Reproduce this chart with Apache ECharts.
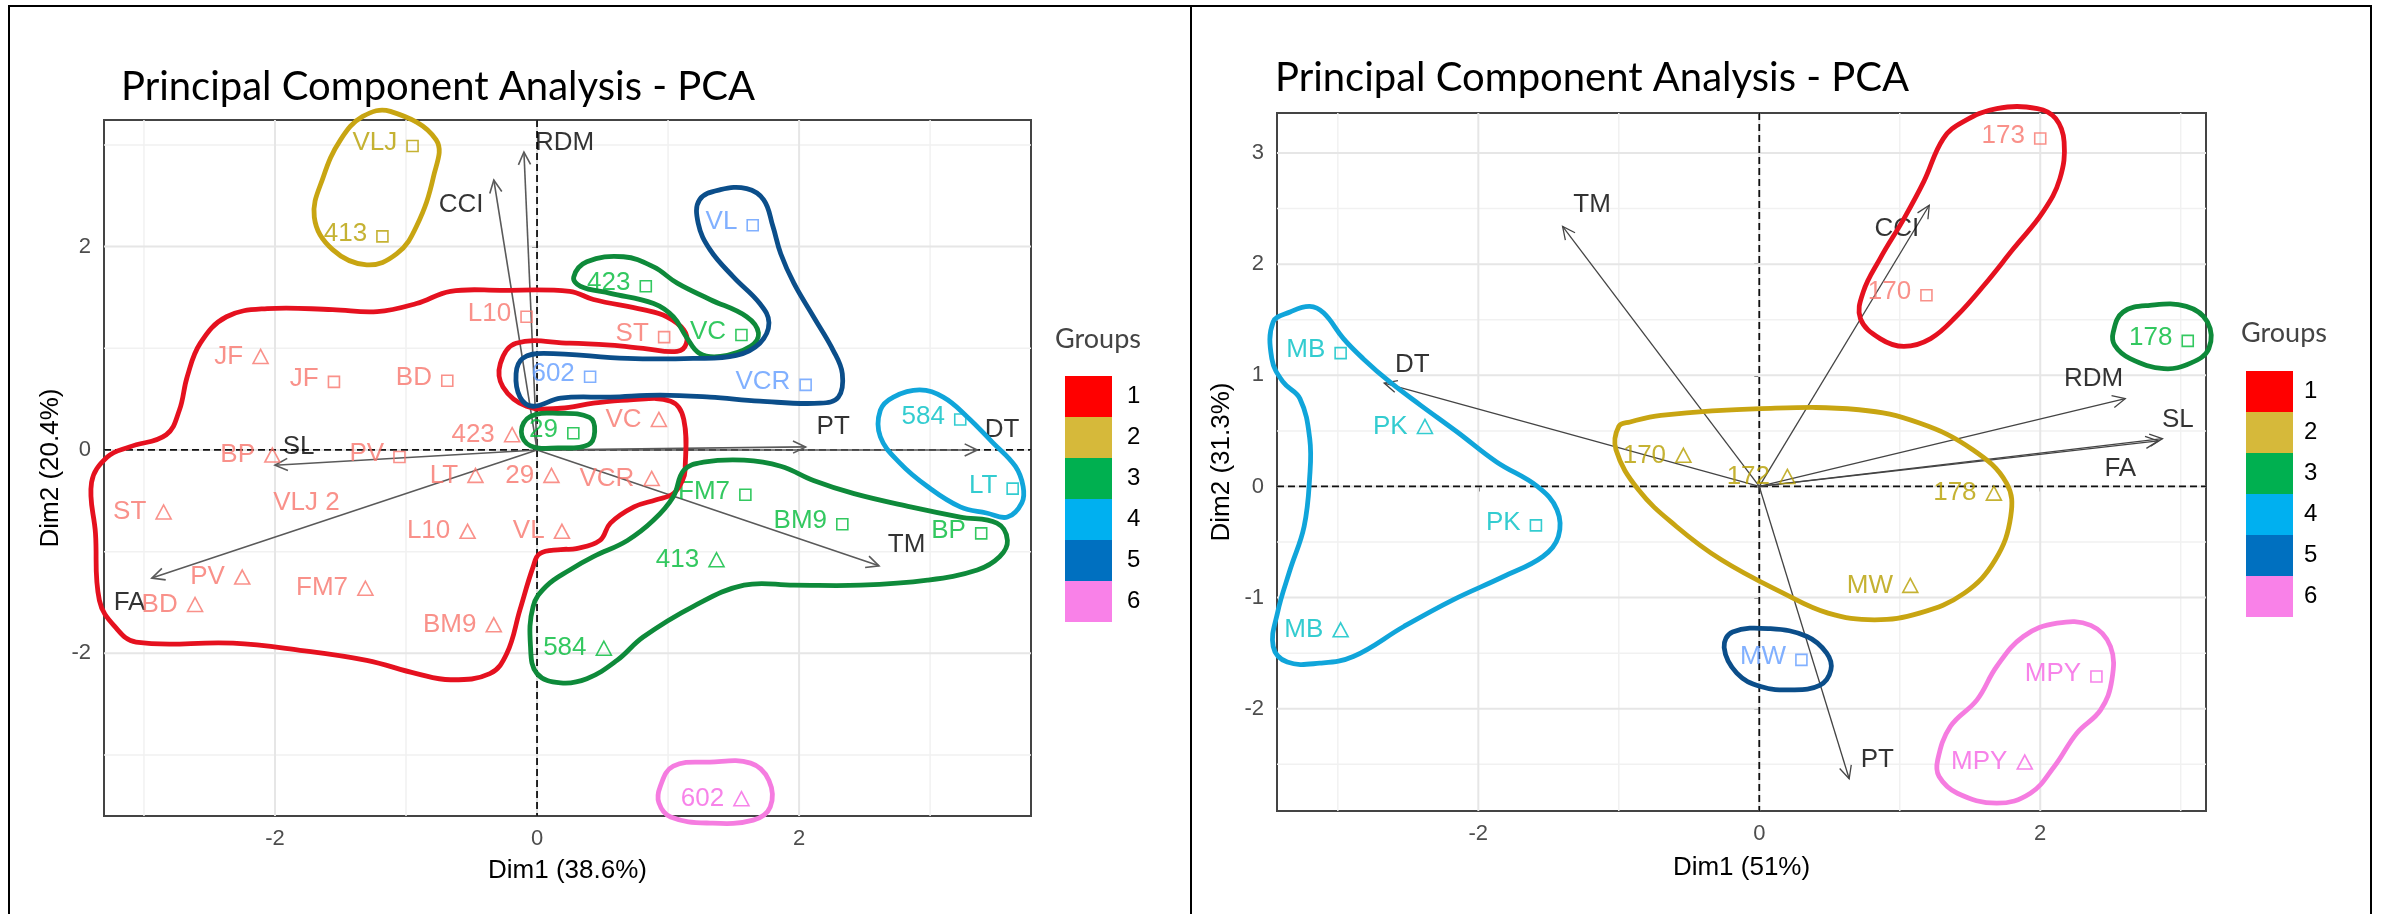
<!DOCTYPE html>
<html><head><meta charset="utf-8">
<script src="https://cdn.jsdelivr.net/npm/echarts@6/dist/echarts.min.js"></script>
<style>html,body{margin:0;padding:0;background:#fff}#c{width:2381px;height:914px}</style>
</head><body><div id="c"></div>
<script>
// ---------- data ----------
const groupNames = ['1','2','3','4','5','6'];
const groupLabelColors = ['#F8766D','#B79F00','#00BA38','#00BFC4','#619CFF','#F564E3'];
const hullColors = ['#E5111F','#C8A512','#0E8A3A','#10A5DA','#0B4E8A','#F57CE0'];
const legendColors = ['#FF0000','#D6B93A','#00B050','#00B0F0','#0070C0','#F981E8'];

const titleText = 'Principal Component Analysis - PCA';
const leftAxisNames = ['Dim1 (38.6%)','Dim2 (20.4%)'];
const rightAxisNames = ['Dim1 (51%)','Dim2 (31.3%)'];
const leftXTicks = [-2,0,2];
const leftYTicks = [-2,0,2];
const rightXTicks = [-2,0,2];
const rightYTicks = [-2,-1,0,1,2,3];
const leftXMinor = [-3,-1,1,3];
const leftYMinor = [-3,-1,1,3];
const rightXMinor = [-3,-1,1,3];
const rightYMinor = [-2.5,-1.5,-0.5,0.5,1.5,2.5];

// points: [label, group, shape, Dim1, Dim2]
const leftPoints = [
 ['VLJ',2,'sq',-0.95,2.99], ['413',2,'sq',-1.18,2.10],
 ['L10',1,'sq',-0.08,1.31], ['JF',1,'tri',-2.11,0.92], ['JF',1,'sq',-1.55,0.67],
 ['BD',1,'sq',-0.685,0.68], ['602',5,'sq',0.405,0.72], ['423',1,'tri',-0.19,0.15],
 ['29',3,'sq',0.277,0.164], ['BP',1,'tri',-2.02,-0.05], ['PV',1,'sq',-1.05,-0.07],
 ['VL',5,'sq',1.646,2.21], ['423',3,'sq',0.83,1.61], ['ST',1,'sq',0.97,1.11],
 ['VC',3,'sq',1.56,1.13], ['VCR',5,'sq',2.05,0.64], ['VC',1,'tri',0.93,0.30],
 ['584',4,'sq',3.23,0.30], ['ST',1,'tri',-2.85,-0.61], ['VLJ 2',1,'none',-1.76,-0.52],
 ['LT',1,'tri',-0.47,-0.25], ['29',1,'tri',0.11,-0.25], ['L10',1,'tri',-0.53,-0.80],
 ['VL',1,'tri',0.19,-0.80], ['PV',1,'tri',-2.25,-1.25], ['FM7',1,'tri',-1.31,-1.36],
 ['BD',1,'tri',-2.61,-1.52], ['BM9',1,'tri',-0.33,-1.72], ['584',3,'tri',0.51,-1.95],
 ['VCR',1,'tri',0.875,-0.28], ['FM7',3,'sq',1.59,-0.44], ['BM9',3,'sq',2.33,-0.73],
 ['BP',3,'sq',3.39,-0.82], ['LT',4,'sq',3.63,-0.38], ['413',3,'tri',1.37,-1.08],
 ['602',6,'tri',1.56,-3.43]
];
const rightPoints = [
 ['MB',4,'sq',-2.98,1.20], ['PK',4,'tri',-2.38,0.54], ['170',2,'tri',-0.54,0.28],
 ['173',1,'sq',2.00,3.13], ['170',1,'sq',1.19,1.72], ['178',3,'sq',3.05,1.31],
 ['172',2,'tri',0.20,0.09], ['178',2,'tri',1.67,-0.06], ['MW',2,'tri',1.075,-0.89],
 ['MW',5,'sq',0.30,-1.56], ['MPY',6,'sq',2.40,-1.71], ['MPY',6,'tri',1.89,-2.48],
 ['PK',4,'sq',-1.59,-0.35], ['MB',4,'tri',-2.98,-1.29]
];

// variable arrows: [name, tipDim1, tipDim2, labelDim1, labelDim2]
const leftArrows = [
 ['RDM',-0.10,2.93,0.21,3.02], ['CCI',-0.33,2.655,-0.58,2.41], ['SL',-2.0,-0.15,-1.82,0.03],
 ['FA',-2.94,-1.26,-3.11,-1.50], ['PT',2.05,0.03,2.26,0.23], ['DT',3.36,0.0,3.55,0.20],
 ['TM',2.61,-1.14,2.82,-0.93]
];
const rightArrows = [
 ['TM',-1.40,2.34,-1.19,2.53], ['DT',-2.67,0.93,-2.47,1.09], ['CCI',1.21,2.53,0.98,2.32],
 ['RDM',2.605,0.79,2.38,0.97], ['SL',2.87,0.43,2.98,0.60], ['FA',2.84,0.41,2.57,0.16],
 ['PT',0.64,-2.63,0.84,-2.46]
];

// hand-drawn group outlines (Dim1, Dim2)
const leftHull1 = [[-3.28,-0.07],[-3.11,0.03],[-2.83,0.15],[-2.73,0.39],[-2.67,0.72],[-2.57,1.05],[-2.37,1.31],[-2.06,1.39],[-1.56,1.38],[-1.22,1.36],[-0.92,1.44],[-0.66,1.56],[-0.28,1.57],[0.25,1.56],[0.43,1.48],[0.81,1.38],[0.99,1.31],[1.12,1.18],[1.14,1.05],[1.07,0.97],[0.81,1.00],[0.56,1.03],[0.25,1.05],[-0.16,1.05],[-0.28,0.85],[-0.26,0.62],[-0.08,0.43],[0.18,0.41],[0.43,0.46],[0.69,0.49],[1.02,0.48],[1.12,0.30],[1.13,-0.20],[1.11,-0.30],[1.04,-0.43],[0.91,-0.49],[0.74,-0.56],[0.56,-0.72],[0.48,-0.89],[0.30,-0.97],[0.18,-0.98],[0.02,-1.02],[-0.03,-1.15],[-0.13,-1.57],[-0.23,-2.00],[-0.36,-2.20],[-0.66,-2.26],[-0.92,-2.20],[-1.30,-2.07],[-1.81,-1.97],[-2.32,-1.90],[-3.06,-1.89],[-3.22,-1.74],[-3.34,-1.48],[-3.37,-0.82],[-3.40,-0.32]];
const leftHull2 = [[-1.12,3.33],[-0.77,3.05],[-0.79,2.69],[-0.92,2.20],[-1.07,1.93],[-1.30,1.82],[-1.56,1.97],[-1.70,2.29],[-1.63,2.69],[-1.50,3.05],[-1.33,3.28]];
const leftHull3a = [[0.28,1.70],[0.38,1.85],[0.66,1.90],[0.89,1.80],[1.07,1.64],[1.32,1.48],[1.60,1.31],[1.69,1.15],[1.63,1.02],[1.40,0.92],[1.24,0.95],[1.14,1.11],[1.04,1.31],[0.89,1.44],[0.56,1.54],[0.33,1.61]];
const leftHull3b = [[-0.12,0.18],[-0.05,0.33],[0.16,0.36],[0.40,0.32],[0.44,0.18],[0.39,0.05],[0.16,0.02],[-0.05,0.04]];
const leftHull3c = [[1.12,-0.20],[1.27,-0.12],[1.58,-0.10],[1.86,-0.16],[2.11,-0.30],[2.42,-0.43],[2.85,-0.56],[3.23,-0.66],[3.51,-0.72],[3.59,-0.89],[3.53,-1.05],[3.36,-1.18],[2.98,-1.28],[2.47,-1.33],[1.96,-1.33],[1.58,-1.33],[1.19,-1.54],[0.81,-1.84],[0.61,-2.07],[0.38,-2.25],[0.18,-2.29],[0.00,-2.20],[-0.05,-1.93],[-0.03,-1.54],[0.07,-1.34],[0.25,-1.18],[0.43,-1.05],[0.69,-0.89],[0.89,-0.69],[1.04,-0.46]];
const leftHull4 = [[2.62,0.39],[2.72,0.52],[2.92,0.59],[3.10,0.52],[3.28,0.33],[3.48,0.07],[3.65,-0.16],[3.71,-0.36],[3.70,-0.52],[3.59,-0.66],[3.43,-0.62],[3.23,-0.56],[2.98,-0.36],[2.77,-0.13],[2.62,0.13]];
const leftHull5 = [[1.24,2.46],[1.40,2.56],[1.60,2.57],[1.73,2.46],[1.80,2.20],[1.86,1.93],[1.96,1.64],[2.11,1.31],[2.26,0.98],[2.33,0.75],[2.30,0.52],[2.16,0.46],[1.70,0.48],[1.32,0.52],[0.94,0.54],[0.56,0.52],[0.18,0.51],[-0.03,0.43],[-0.13,0.52],[-0.16,0.75],[-0.11,0.90],[0.05,0.95],[0.69,0.90],[1.19,0.90],[1.52,0.93],[1.70,1.05],[1.77,1.25],[1.70,1.44],[1.50,1.70],[1.32,1.97],[1.23,2.23]];
const leftHull6 = [[0.94,-3.31],[1.04,-3.11],[1.32,-3.07],[1.63,-3.08],[1.77,-3.25],[1.78,-3.51],[1.65,-3.64],[1.32,-3.67],[1.02,-3.61],[0.93,-3.47]];

const rightHull1 = [[1.31,3.13],[1.45,3.28],[1.69,3.40],[1.98,3.40],[2.11,3.31],[2.17,3.10],[2.14,2.77],[2.02,2.47],[1.81,2.14],[1.60,1.81],[1.41,1.54],[1.22,1.33],[1.03,1.26],[0.86,1.33],[0.72,1.51],[0.74,1.75],[0.86,2.05],[1.03,2.41],[1.17,2.74]];
const rightHull2 = [[-0.92,0.58],[-0.70,0.64],[0.01,0.70],[0.71,0.69],[1.14,0.57],[1.52,0.33],[1.76,0.03],[1.79,-0.27],[1.68,-0.66],[1.46,-0.96],[1.14,-1.14],[0.82,-1.20],[0.49,-1.14],[0.17,-0.96],[-0.27,-0.66],[-0.59,-0.36],[-0.86,-0.03],[-1.02,0.33],[-1.00,0.54]];
const rightHull3 = [[2.52,1.39],[2.59,1.57],[2.78,1.63],[3.04,1.62],[3.19,1.48],[3.20,1.24],[3.07,1.11],[2.88,1.06],[2.64,1.15],[2.53,1.27]];
const rightHull4 = [[-3.46,1.48],[-3.34,1.57],[-3.20,1.62],[-3.10,1.56],[-2.96,1.33],[-2.82,1.15],[-2.63,0.94],[-2.41,0.73],[-2.15,0.49],[-1.87,0.22],[-1.58,0.00],[-1.44,-0.21],[-1.43,-0.45],[-1.54,-0.63],[-1.82,-0.81],[-2.18,-1.02],[-2.53,-1.26],[-2.89,-1.53],[-3.13,-1.59],[-3.36,-1.58],[-3.46,-1.44],[-3.43,-1.14],[-3.34,-0.75],[-3.24,-0.36],[-3.20,0.09],[-3.20,0.43],[-3.27,0.79],[-3.39,0.94],[-3.47,1.15]];
const rightHull5 = [[-0.25,-1.45],[-0.19,-1.31],[0.08,-1.28],[0.34,-1.35],[0.48,-1.50],[0.51,-1.65],[0.43,-1.79],[0.22,-1.83],[0.01,-1.80],[-0.16,-1.68]];
const rightHull6 = [[1.27,-2.46],[1.36,-2.16],[1.55,-1.92],[1.69,-1.62],[1.88,-1.35],[2.12,-1.23],[2.36,-1.25],[2.50,-1.44],[2.51,-1.74],[2.43,-2.01],[2.26,-2.22],[2.10,-2.52],[1.93,-2.76],[1.69,-2.85],[1.41,-2.76],[1.28,-2.61]];

// ---------- rendering ----------
const FONT = '"Liberation Sans", Arial, sans-serif';
const TFONT = 'Lato, "Open Sans", sans-serif';

function gridLineSeries(values, dir, xi, yi, style, z){
  return {type:'custom', xAxisIndex:xi, yAxisIndex:yi, silent:true, z:z, animation:false,
    data: values.map(v => [v]),
    renderItem: function(params, api){
      const cs = params.coordSys; const v = api.value(0);
      if (dir === 'v'){ const x = api.coord([v, 0])[0];
        return {type:'line', shape:{x1:x, y1:cs.y, x2:x, y2:cs.y+cs.height}, style:style}; }
      const y = api.coord([0, v])[1];
      return {type:'line', shape:{x1:cs.x, y1:y, x2:cs.x+cs.width, y2:y}, style:style};
    }};
}
function arrowSeries(arrows, xi, yi, color, lw){
  return {type:'custom', xAxisIndex:xi, yAxisIndex:yi, silent:true, z:3, clip:false, animation:false,
    data: arrows.map(a => [a[1], a[2]]),
    renderItem: function(params, api){
      const o = api.coord([0,0]); const t = api.coord([api.value(0), api.value(1)]);
      const ang = Math.atan2(t[1]-o[1], t[0]-o[0]); const L = 14, a = Math.PI/7;
      const p1 = [t[0]-L*Math.cos(ang-a), t[1]-L*Math.sin(ang-a)];
      const p2 = [t[0]-L*Math.cos(ang+a), t[1]-L*Math.sin(ang+a)];
      return {type:'group', children:[
        {type:'line', shape:{x1:o[0],y1:o[1],x2:t[0],y2:t[1]}, style:{stroke:color, lineWidth:lw}},
        {type:'polyline', shape:{points:[p1,t,p2]}, style:{stroke:color, lineWidth:lw, fill:null}}
      ]};
    }};
}
function arrowLabelSeries(arrows, xi, yi){
  return {type:'scatter', xAxisIndex:xi, yAxisIndex:yi, z:4, silent:true, symbol:'circle', symbolSize:1,
    itemStyle:{color:'rgba(0,0,0,0)'}, animation:false,
    label:{show:true, position:'inside', formatter:'{b}', color:'#000', fontSize:26, fontFamily:FONT},
    data: arrows.map(a => ({name:a[0], value:[a[3], a[4]]}))};
}
function pointSeries(points, xi, yi){
  return {type:'scatter', xAxisIndex:xi, yAxisIndex:yi, z:4, silent:true, animation:false,
    label:{show:true, position:'left', distance:9, fontSize:26, fontFamily:FONT, formatter:'{b}'},
    data: points.map(p => {
      const c = groupLabelColors[p[1]-1];
      const sq = p[2] === 'sq', tri = p[2] === 'tri';
      return {name:p[0], value:[p[3], p[4]],
        symbol: sq ? 'rect' : (tri ? 'triangle' : 'circle'),
        symbolSize: sq ? [11,11] : (tri ? [15,14] : 1),
        itemStyle:{color:'rgba(0,0,0,0)', borderColor:(sq||tri) ? c : 'rgba(0,0,0,0)', borderWidth:1.6},
        label:{color:c, position:(sq||tri) ? 'left' : 'inside', offset: sq ? [0,-3] : [0,0]}};
    })};
}
function hullSeries(pts, group, xi, yi){
  const color = hullColors[group-1];
  return {type:'custom', name:String(group), xAxisIndex:xi, yAxisIndex:yi, silent:true, z:6, clip:false,
    animation:false, itemStyle:{color:legendColors[group-1]},
    data: pts,
    renderItem: function(params, api){
      if (params.dataIndex !== 0) return null;
      return {type:'polygon', shape:{points: pts.map(p => api.coord(p)), smooth:0.4},
        style:{fill:null, stroke:color, lineWidth:4.8}};
    }};
}

const majorStyle = {stroke:'#E6E6E6', lineWidth:2};
const minorStyle = {stroke:'#F1F1F1', lineWidth:1.5};
const zeroStyle = {stroke:'#111', lineWidth:1.8, lineDash:[7,4]};

function axisX(gi, min, max, ticks, name, gap){
  return {type:'value', gridIndex:gi, min:min, max:max, name:name, nameLocation:'middle', nameGap:gap,
    nameTextStyle:{fontSize:26, color:'#000', fontFamily:FONT},
    axisLine:{show:false}, splitLine:{show:false},
    axisTick:{show:true, length:5, lineStyle:{color:'#333', width:1.5}, customValues:ticks},
    axisLabel:{fontSize:22, color:'#4D4D4D', fontFamily:FONT, margin:12, customValues:ticks}};
}
function axisY(gi, min, max, ticks, name, gap){
  const a = axisX(gi, min, max, ticks, name, gap);
  a.axisLabel.margin = 13;
  return a;
}

const series = [
  gridLineSeries(leftXMinor,'v',0,0,minorStyle,0), gridLineSeries(leftYMinor,'h',0,0,minorStyle,0),
  gridLineSeries(leftXTicks,'v',0,0,majorStyle,1), gridLineSeries(leftYTicks,'h',0,0,majorStyle,1),
  gridLineSeries([0],'v',0,0,zeroStyle,2), gridLineSeries([0],'h',0,0,zeroStyle,2),
  gridLineSeries(rightXMinor,'v',1,1,minorStyle,0), gridLineSeries(rightYMinor,'h',1,1,minorStyle,0),
  gridLineSeries(rightXTicks,'v',1,1,majorStyle,1), gridLineSeries(rightYTicks,'h',1,1,majorStyle,1),
  gridLineSeries([0],'v',1,1,zeroStyle,2), gridLineSeries([0],'h',1,1,zeroStyle,2),
  arrowSeries(leftArrows,0,0,'#5a5a5a',1.6), arrowLabelSeries(leftArrows,0,0), pointSeries(leftPoints,0,0),
  arrowSeries(rightArrows,1,1,'#444',1.3), arrowLabelSeries(rightArrows,1,1), pointSeries(rightPoints,1,1),
  hullSeries(leftHull1,1,0,0), hullSeries(leftHull2,2,0,0), hullSeries(leftHull3a,3,0,0),
  hullSeries(leftHull3b,3,0,0), hullSeries(leftHull3c,3,0,0), hullSeries(leftHull4,4,0,0),
  hullSeries(leftHull5,5,0,0), hullSeries(leftHull6,6,0,0),
  hullSeries(rightHull1,1,1,1), hullSeries(rightHull2,2,1,1), hullSeries(rightHull3,3,1,1),
  hullSeries(rightHull4,4,1,1), hullSeries(rightHull5,5,1,1), hullSeries(rightHull6,6,1,1)
];

const legendData = groupNames.map((g,i) => ({name:g, itemStyle:{color:legendColors[i], borderWidth:0}}));
function legend(left, top, padLeft){
  return {orient:'vertical', left:left, top:top, itemWidth:47, itemHeight:41, itemGap:0, icon:'rect',
    selectedMode:false, padding:0, data:legendData,
    textStyle:{fontSize:24, color:'#000', fontFamily:FONT, padding:[0,0,8,padLeft]}};
}

const option = {
  animation:false, backgroundColor:'#fff',
  title:[
    {text:titleText, left:121, top:67, padding:0, textStyle:{fontFamily:TFONT, fontSize:40, fontWeight:'normal', color:'#000'}},
    {text:titleText, left:1275, top:58, padding:0, textStyle:{fontFamily:TFONT, fontSize:40, fontWeight:'normal', color:'#000'}},
    {text:'Groups', left:1055, top:326, padding:0, textStyle:{fontFamily:TFONT, fontSize:27, fontWeight:'normal', color:'#444'}},
    {text:'Groups', left:2241, top:320, padding:0, textStyle:{fontFamily:TFONT, fontSize:27, fontWeight:'normal', color:'#444'}}
  ],
  legend:[legend(1065,376,10), legend(2246,371,6)],
  grid:[
    {left:104, top:120, width:927, height:696, show:true, borderColor:'#444', borderWidth:2, backgroundColor:'#fff'},
    {left:1277, top:113, width:929, height:698, show:true, borderColor:'#444', borderWidth:2, backgroundColor:'#fff'}
  ],
  xAxis:[axisX(0,-3.305,3.77,leftXTicks,leftAxisNames[0],42), axisX(1,-3.433,3.18,rightXTicks,rightAxisNames[0],44)],
  yAxis:[axisY(0,-3.60,3.245,leftYTicks,leftAxisNames[1],40), axisY(1,-2.92,3.36,rightYTicks,rightAxisNames[1],42)],
  graphic:[
    {type:'line', shape:{x1:8,y1:6,x2:2372,y2:6}, style:{stroke:'#000', lineWidth:2}},
    {type:'line', shape:{x1:9,y1:6,x2:9,y2:914}, style:{stroke:'#000', lineWidth:2}},
    {type:'line', shape:{x1:1191,y1:6,x2:1191,y2:914}, style:{stroke:'#000', lineWidth:2}},
    {type:'line', shape:{x1:2371,y1:6,x2:2371,y2:914}, style:{stroke:'#000', lineWidth:2}}
  ],
  series: series
};
const chart = echarts.init(document.getElementById('c'));
chart.setOption(option);
</script>
</body></html>
